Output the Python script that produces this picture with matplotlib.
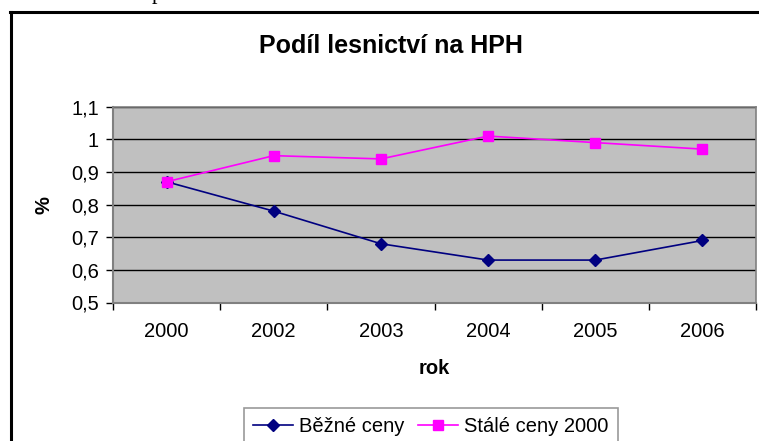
import numpy as np
import matplotlib
matplotlib.use("Agg")
import matplotlib.pyplot as plt
from matplotlib.lines import Line2D

# data
years = ["2000", "2002", "2003", "2004", "2005", "2006"]
bezne_ceny = [0.87, 0.78, 0.68, 0.63, 0.63, 0.69]
stale_ceny = [0.87, 0.95, 0.94, 1.01, 0.99, 0.97]
yticks = [0.5, 0.6, 0.7, 0.8, 0.9, 1.0, 1.1]
ytick_labels = ["0,5", "0,6", "0,7", "0,8", "0,9", "1", "1,1"]

plt.rcParams['font.family'] = ['Liberation Sans', 'DejaVu Sans']

W, H = 759, 441
fig = plt.figure(figsize=(W / 100, H / 100), dpi=100)
fig.patch.set_facecolor('white')

# plot area in pixel coords of the reference
left, right, top, bottom = 113, 756, 106.7, 302.5
ax = fig.add_axes([left / W, 1 - bottom / H, (right - left) / W, (bottom - top) / H])
ax.set_facecolor('#C0C0C0')

x = np.arange(len(years))
ax.plot(x, bezne_ceny, color='#000080', lw=1.2, marker='D', ms=6,
        label='Běžné ceny', zorder=3)
ax.plot(x, stale_ceny, color='#FF00FF', lw=1.2, marker='s', ms=7,
        label='Stálé ceny 2000', zorder=3)

ax.set_xlim(-0.5, len(years) - 0.5)
ax.set_ylim(0.5, 1.1)

ax.set_yticks(yticks)
ax.set_yticklabels(ytick_labels)
ax.yaxis.grid(True, color='black', lw=1.0)
ax.set_axisbelow(True)

# category labels centred, tick marks between categories (Excel style)
ax.set_xticks(x)
ax.set_xticklabels(years)
ax.set_xticks(np.arange(len(years) + 1) - 0.5, minor=True)
ax.tick_params(axis='x', which='major', length=0, pad=14, labelsize=14.5)
ax.tick_params(axis='x', which='minor', length=5, width=1, direction='out', color='black')
ax.tick_params(axis='y', length=5, width=1, direction='out', color='black',
               pad=5, labelsize=14.5)

for s in ['left', 'bottom']:
    ax.spines[s].set_color('#808080')
    ax.spines[s].set_linewidth(1.5)
for s in ['top', 'right']:
    ax.spines[s].set_color('#808080')
    ax.spines[s].set_linewidth(1.2)

fig.text(391 / W, 1 - 46 / H, 'Podíl lesnictví na HPH', ha='center', va='center',
         fontsize=18, fontweight='bold')
fig.text(434 / W, 1 - 368 / H, 'rok', ha='center', va='center',
         fontsize=14.5, fontweight='bold')
fig.text(44 / W, 1 - 205 / H, '%', ha='center', va='center', rotation=90,
         fontsize=14.5, fontweight='bold')

# descender of a letter from the surrounding document, just above the chart
fig.text(152 / W, 1 + 1 / H, 'p', ha='left', va='baseline', fontsize=16,
         family='Liberation Serif')

# outer chart frame (right and bottom run off the picture)
fig.add_artist(Line2D([10.5 / W, 10.5 / W], [1 - 11.5 / H, -0.05], color='black', lw=2.2,
                      transform=fig.transFigure))
fig.add_artist(Line2D([10 / W, 1.05], [1 - 11.5 / H, 1 - 11.5 / H], color='black', lw=2.2,
                      transform=fig.transFigure))

leg = fig.legend(loc='upper left', bbox_to_anchor=(244 / W, 1 - 408 / H), ncol=2,
                 fontsize=14.5, frameon=True, fancybox=False, edgecolor='#808080',
                 handlelength=2.0, handletextpad=0.3, columnspacing=0.65,
                 borderpad=0.45, borderaxespad=0)
leg.get_frame().set_linewidth(1.2)

fig.savefig('out.png', dpi=100)
